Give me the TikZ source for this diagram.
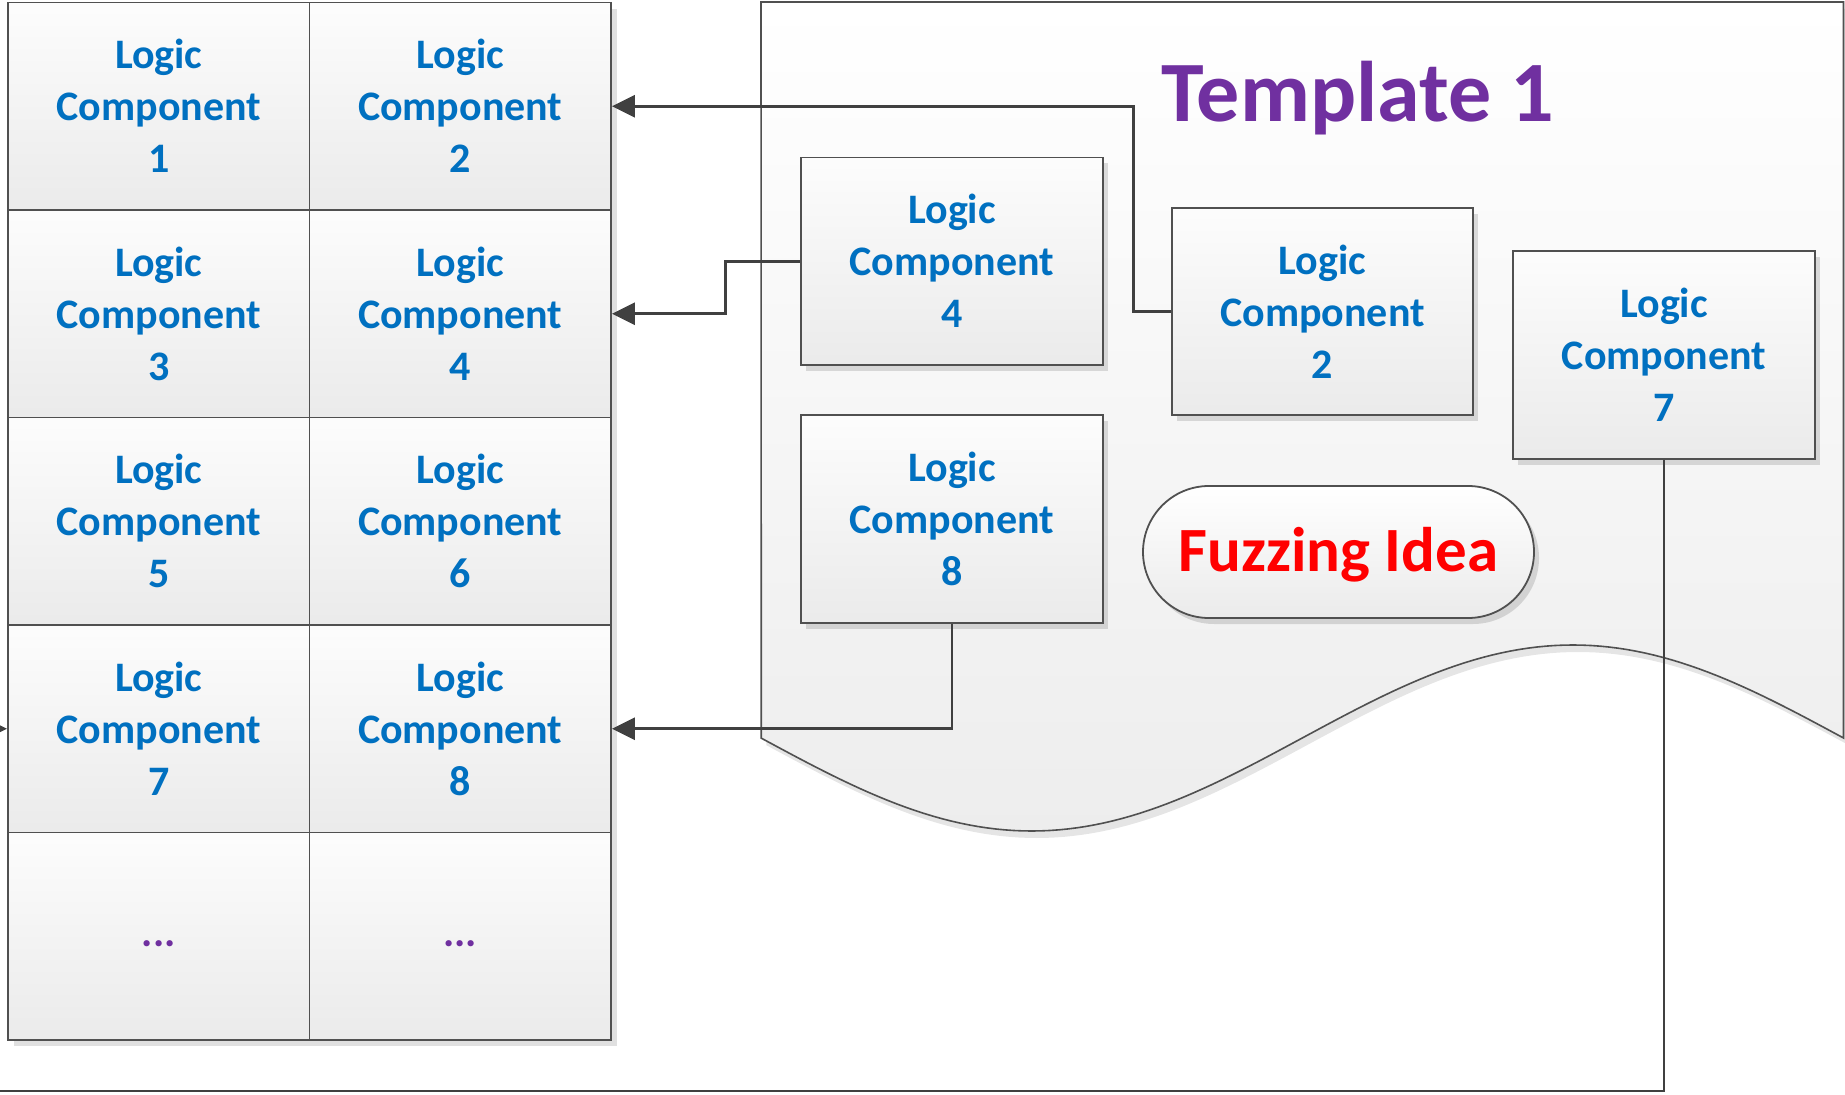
\documentclass[tikz,border=0pt]{standalone}
\usepackage{fontspec}
\setmainfont{Carlito}
\usetikzlibrary{arrows.meta,shadows}

\definecolor{lcblue}{HTML}{0070C0}
\definecolor{tplpurple}{HTML}{7030A0}
\definecolor{ideared}{HTML}{FF0000}
\definecolor{wire}{HTML}{404040}
\definecolor{rim}{HTML}{505050}

\tikzset{
  cell/.style={draw=rim, line width=0.9pt, minimum width=150.75pt, minimum height=103.75pt,
    inner sep=0pt, top color=black!1, bottom color=black!8, align=center, text=lcblue,
    font=\bfseries\fontsize{21}{26}\selectfont},
  tbox/.style={cell, drop shadow={shadow xshift=2.5pt, shadow yshift=-3pt, fill=black, opacity=0.13}},
  dottext/.style={anchor=base, text=tplpurple, inner sep=0pt, font=\bfseries\fontsize{21}{26}\selectfont},
  pill/.style={draw=rim, line width=0.9pt, rounded corners=33pt, minimum width=195.5pt,
    minimum height=66pt, inner sep=0pt, text height=24pt, text depth=4.3pt,
    top color=white, bottom color=black!8,
    drop shadow={shadow xshift=2.5pt, shadow yshift=-3pt, fill=black, opacity=0.13},
    text=ideared, font=\bfseries\fontsize{31.5}{38}\selectfont},
  conn/.style={draw=wire, line width=1.4pt, -{Triangle[length=11.5pt,width=11pt]}},
}

\begin{document}
\begin{tikzpicture}[x=0.5pt,y=-0.5pt]
\useasboundingbox (0,0) rectangle (1845,1095);
\clip (0,0) rectangle (1845,1095);

% template sheet with wavy lower edge: soft shadow, then the sheet
\fill[black!10] (766,9) -- (1850,9) -- (1850,745)
  -- plot[domain=1:0, samples=121, variable=\t] ({766+1082.5*\t},{745+93*sin(360*\t)}) -- cycle;
\path[draw=rim, line width=0.8pt, top color=white, bottom color=black!7]
  (761,2) -- (1843.5,2) -- (1843.5,738)
  -- plot[domain=1:0, samples=121, variable=\t] ({761+1082.5*\t},{738+93*sin(360*\t)}) -- cycle;

\node[text=tplpurple, anchor=base, inner sep=0pt, font=\bfseries\fontsize{43}{50}\selectfont]
  (title) at (1358,121.7) {Template 1};

% component table shadow
\fill[black!12] (14,9) rectangle (617,1046);

% component table
\node[cell] (c1) at (158.75,106.25) {Logic\\Component\\1};
\node[cell] (c2) at (460.25,106.25) {Logic\\Component\\2};
\node[cell] (c3) at (158.75,313.75) {Logic\\Component\\3};
\node[cell] (c4) at (460.25,313.75) {Logic\\Component\\4};
\node[cell] (c5) at (158.75,521.25) {Logic\\Component\\5};
\node[cell] (c6) at (460.25,521.25) {Logic\\Component\\6};
\node[cell] (c7) at (158.75,728.75) {Logic\\Component\\7};
\node[cell] (c8) at (460.25,728.75) {Logic\\Component\\8};
\node[cell] (c9) at (158.75,936.25) {};
\node[cell] (c10) at (460.25,936.25) {};
\node[dottext] (d9) at ([yshift=-5pt]c9.center) {...};
\node[dottext] (d10) at ([yshift=-5pt]c10.center) {...};

% components placed in the template
\node[tbox] (b4) at (952,261.25) {Logic\\Component\\4};
\node[tbox] (b8) at (952,518.9) {Logic\\Component\\8};
\node[tbox] (b2) at (1322.5,311.5) {Logic\\Component\\2};
\node[tbox] (b7) at (1664,355) {Logic\\Component\\7};
\node[pill] (idea) at (1338.5,552) {Fuzzing Idea};

% connectors
\draw[conn] (b2.west) -- ++(-37.4,0) |- (c2.east);
\draw[conn] (b4.west) -- ++(-75,0) |- (c4.east);
\draw[conn] (b8.south) |- (c8.east);
\coordinate (loopA) at (1664,1091);
\coordinate (loopB) at (-30,1091);
\draw[conn] (b7.south) -- (loopA) -- (loopB) |- (c7.west);
\end{tikzpicture}
\end{document}
